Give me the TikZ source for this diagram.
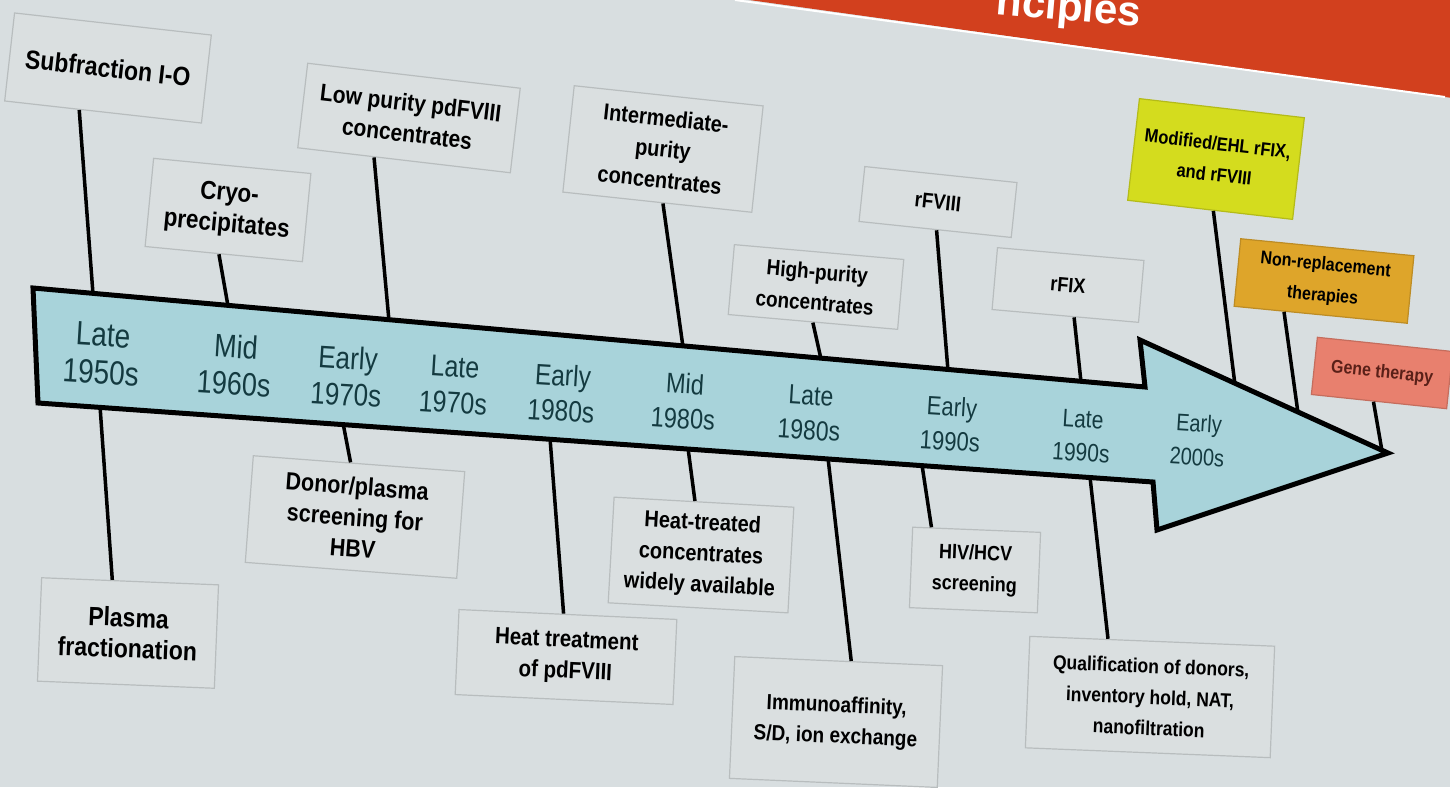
\documentclass[tikz,border=0pt]{standalone}
\usepackage{fontspec}
\setmainfont{Liberation Sans}
\usetikzlibrary{calc}
\definecolor{bg}{HTML}{D8DEE0}
\definecolor{boxfill}{HTML}{DADFE0}
\definecolor{boxline}{HTML}{B8BDBE}
\definecolor{hdr}{HTML}{D2401E}
\definecolor{arrowfill}{HTML}{A8D3DA}
\definecolor{yeartext}{HTML}{143A40}
\definecolor{yellowbox}{HTML}{D4DC1E}
\definecolor{orangebox}{HTML}{DEA52A}
\definecolor{genebox}{HTML}{E8806E}
\definecolor{genetext}{HTML}{5A2018}
\newcommand\boxfs[1]{\fontsize{#1}{27}\selectfont\bfseries}
\newcommand\yearfs[2]{\fontsize{#1}{#2}\selectfont}
\tikzset{
  box/.style={draw=boxline, fill=boxfill, line width=1.2pt, align=center,
    inner sep=2pt, text=black},
  yearlbl/.style={text=yeartext, align=center, inner sep=0pt},
  link/.style={line width=3.5pt, draw=black},
}
\begin{document}
\begin{tikzpicture}[x=1pt,y=-1pt]
\useasboundingbox (0,0) rectangle (1450,787);
\fill[bg] (0,0) rectangle (1450,787);
% header band
\fill[hdr] (735,-2) -- (1452,-2) -- (1452,98) -- (1445,97) -- cycle;
\draw[white, line width=2pt] (735,0) -- (1445,97);
\node[anchor=base east, rotate=-5, text=white, inner sep=0pt,
  font=\bfseries\fontsize{42}{42}\selectfont] (title) at (1140,27) {nciples};

% arrow connector end points
\coordinate (t1) at (93,294);
\coordinate (t2) at (228,306);
\coordinate (t3) at (389,321);
\coordinate (t4) at (683,347);
\coordinate (t5) at (821,359);
\coordinate (t6) at (948,371);
\coordinate (t7) at (1081,382);
\coordinate (t8) at (1235,385);
\coordinate (t9) at (1298,413);
\coordinate (t10) at (1382,451);
\coordinate (b1) at (100,406);
\coordinate (b2) at (343,423);
\coordinate (b3) at (550,438);
\coordinate (b4) at (688,448);
\coordinate (b5) at (828,458);
\coordinate (b6) at (922,465);
\coordinate (b7) at (1090,477);

% top boxes
\node[box, rotate=-6.4, yscale=1.15, minimum width=198pt, minimum height=77pt, font=\boxfs{23}] (sub) at (108,68) {Subfraction I-O};
\node[box, rotate=-5.5, yscale=1.15, minimum width=158pt, minimum height=77pt, font=\boxfs{22.5}] (cryo) at (228,210) {Cryo-\\precipitates};
\node[box, rotate=-6.7, yscale=1.15, minimum width=214pt, minimum height=74pt, font=\boxfs{21}] (low) at (409,118) {Low purity pdFVIII\\concentrates};
\node[box, rotate=-6.1, yscale=1.15, minimum width=190pt, minimum height=93pt, font=\boxfs{20}] (inter) at (663,149) {Intermediate-\\purity\\concentrates};
\node[box, rotate=-5, yscale=1.15, minimum width=170pt, minimum height=61pt, font=\boxfs{19}] (high) at (816,287) {High-purity\\concentrates};
\node[box, rotate=-6, yscale=1.15, minimum width=153pt, minimum height=48pt, font=\boxfs{18.5}] (rfviii) at (938,202) {rFVIII};
\node[box, rotate=-5, yscale=1.15, minimum width=147pt, minimum height=54pt, font=\boxfs{18}] (rfix) at (1068,285) {rFIX};
\node[box, fill=yellowbox, draw=yellowbox!85!black, rotate=-6.6, yscale=1.15, minimum width=166pt, minimum height=89pt, font=\boxfs{16.5}] (mod) at (1216,159) {Modified/EHL rFIX,\\and rFVIII};
\node[box, fill=orangebox, draw=orangebox!85!black, rotate=-5.6, yscale=1.15, minimum width=174pt, minimum height=59pt, font=\boxfs{16}] (nonrep) at (1324,281) {Non-replacement\\therapies};
\node[box, fill=genebox, draw=genebox!85!black, text=genetext, rotate=-6, yscale=1.15, minimum width=136pt, minimum height=50pt, font=\boxfs{16}] (gene) at (1382,373) {Gene therapy};

% bottom boxes
\node[box, rotate=-2.3, yscale=1.15, minimum width=177pt, minimum height=90pt, font=\boxfs{23}] (plasma) at (128,633) {Plasma\\fractionation};
\node[box, rotate=-4.3, yscale=1.15, minimum width=212pt, minimum height=93pt, font=\boxfs{21.5}] (donor) at (355,517) {Donor/plasma\\screening for\\HBV};
\node[box, rotate=-2.6, yscale=1.15, minimum width=218pt, minimum height=74pt, font=\boxfs{20.5}] (heat) at (566,657) {Heat treatment\\of pdFVIII};
\node[box, rotate=-3.2, yscale=1.15, minimum width=180pt, minimum height=92pt, font=\boxfs{20}] (heatc) at (701,555) {Heat-treated\\concentrates\\widely available};
\node[box, rotate=-2.5, yscale=1.15, minimum width=208pt, minimum height=106pt, font=\boxfs{19}] (immuno) at (836,722) {Immunoaffinity,\\S/D, ion exchange};
\node[box, rotate=-2.3, yscale=1.15, minimum width=128pt, minimum height=70pt, font=\boxfs{18}] (hiv) at (975,570) {HIV/HCV\\screening};
\node[box, rotate=-2.3, yscale=1.15, minimum width=245pt, minimum height=97pt, font=\boxfs{17.5}] (qual) at (1150,697) {Qualification of donors,\\inventory hold, NAT,\\nanofiltration};

% connectors
\draw[link] ($(sub.south west)!0.38!(sub.south east)$) -- (t1);
\draw[link] ($(cryo.south west)!0.47!(cryo.south east)$) -- (t2);
\draw[link] ($(low.south west)!0.36!(low.south east)$) -- (t3);
\draw[link] ($(inter.south west)!0.53!(inter.south east)$) -- (t4);
\draw[link] ($(high.south west)!0.5!(high.south east)$) -- (t5);
\draw[link] ($(rfviii.south west)!0.51!(rfviii.south east)$) -- (t6);
\draw[link] ($(rfix.south west)!0.56!(rfix.south east)$) -- (t7);
\draw[link] ($(mod.south west)!0.52!(mod.south east)$) -- (t8);
\draw[link] ($(nonrep.south west)!0.29!(nonrep.south east)$) -- (t9);
\draw[link] ($(gene.south west)!0.46!(gene.south east)$) -- (t10);
\draw[link] (b1) -- ($(plasma.north west)!0.40!(plasma.north east)$);
\draw[link] (b2) -- ($(donor.north west)!0.46!(donor.north east)$);
\draw[link] (b3) -- ($(heat.north west)!0.48!(heat.north east)$);
\draw[link] (b4) -- ($(heatc.north west)!0.45!(heatc.north east)$);
\draw[link] (b5) -- ($(immuno.north west)!0.56!(immuno.north east)$);
\draw[link] (b6) -- ($(hiv.north west)!0.15!(hiv.north east)$);
\draw[link] (b7) -- ($(qual.north west)!0.32!(qual.north east)$);

% timeline arrow
\draw[fill=arrowfill, draw=black, line width=5pt, line join=miter]
  (33,288) -- (1145,387) -- (1140,340) -- (1388,453) -- (1157,530)
  -- (1153,482) -- (38,403) -- cycle;

% year labels
\node[yearlbl, rotate=-3.5, yscale=1.2, font=\yearfs{28}{31.5}] (y1) at (102,354) {Late\\1950s};
\node[yearlbl, rotate=-3.5, yscale=1.2, font=\yearfs{27}{31}] (y2) at (235,365) {Mid\\1960s};
\node[yearlbl, rotate=-3.5, yscale=1.2, font=\yearfs{26}{30.5}] (y3) at (347,376) {Early\\1970s};
\node[yearlbl, rotate=-3.5, yscale=1.2, font=\yearfs{25}{30}] (y4) at (454,385) {Late\\1970s};
\node[yearlbl, rotate=-3.5, yscale=1.2, font=\yearfs{24.5}{29.5}] (y5) at (562,393) {Early\\1980s};
\node[yearlbl, rotate=-3.5, yscale=1.2, font=\yearfs{23.5}{29}] (y6) at (684,401) {Mid\\1980s};
\node[yearlbl, rotate=-3.5, yscale=1.2, font=\yearfs{23}{29}] (y7) at (810,413) {Late\\1980s};
\node[yearlbl, rotate=-3.5, yscale=1.2, font=\yearfs{22}{28.5}] (y8) at (951,424) {Early\\1990s};
\node[yearlbl, rotate=-3.5, yscale=1.2, font=\yearfs{21}{28}] (y9) at (1082,436) {Late\\1990s};
\node[yearlbl, rotate=-3.5, yscale=1.2, font=\yearfs{20}{28}] (y10) at (1198,440) {Early\\2000s};
\end{tikzpicture}
\end{document}
